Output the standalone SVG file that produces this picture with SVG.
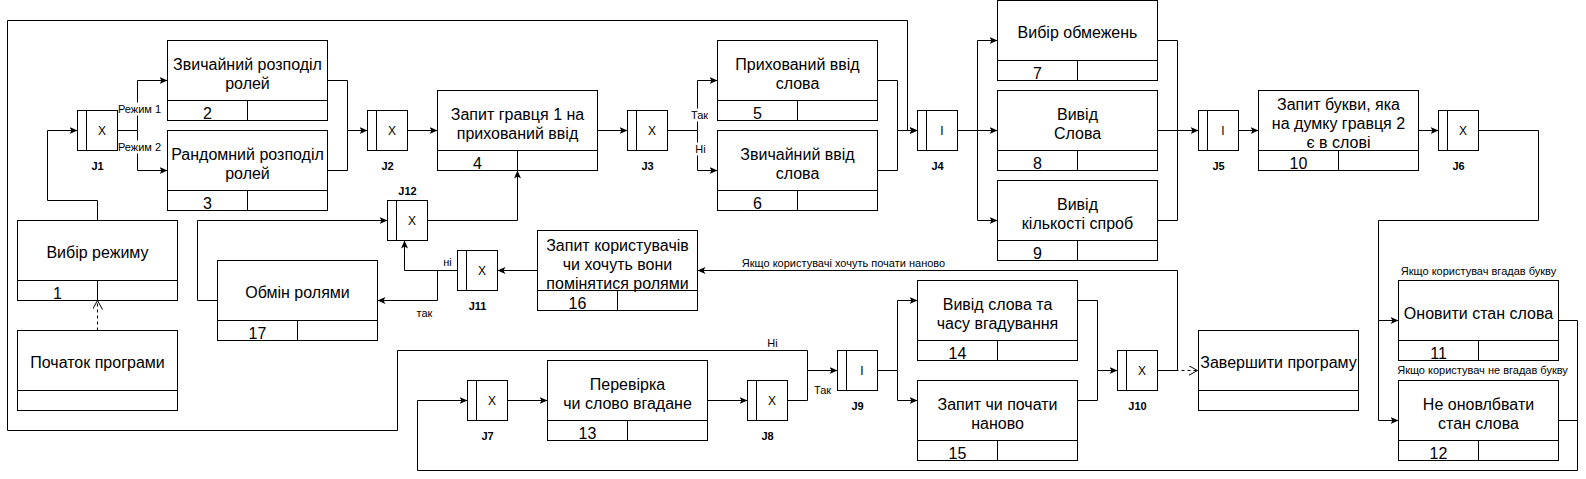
<svg xmlns="http://www.w3.org/2000/svg" width="1586" height="479" viewBox="0 0 1586 479">
<defs>
<style>
.b{fill:#fff;stroke:#000;stroke-width:1}
.l{fill:none;stroke:#000;stroke-width:1}
.c{fill:none;stroke:#000;stroke-width:1}
.d{fill:none;stroke:#000;stroke-width:1;stroke-dasharray:3 3}
.t{font-family:"Liberation Sans",Arial,sans-serif;font-size:16px;text-anchor:middle;fill:#000}
.j{font-family:"Liberation Sans",Arial,sans-serif;font-size:12px;text-anchor:middle;fill:#000}
.jl{font-family:"Liberation Sans",Arial,sans-serif;font-size:11px;font-weight:bold;text-anchor:middle;fill:#000}
.e{font-family:"Liberation Sans",Arial,sans-serif;font-size:11px;text-anchor:middle;fill:#000}
.bg{fill:#fff;stroke:none}
</style>
<marker id="a" markerWidth="10" markerHeight="10" refX="8" refY="4" orient="auto" markerUnits="userSpaceOnUse"><path d="M0,0.5 L8,4 L0,7.5 L2,4 Z" fill="#000"/></marker>
<marker id="o" markerWidth="12" markerHeight="12" refX="9" refY="5" orient="auto" markerUnits="userSpaceOnUse"><path d="M0,0 L9,5 L0,10" fill="none" stroke="#000"/></marker>
</defs>
<rect width="1586" height="479" fill="#fff"/>
<g transform="translate(0.5,0.5)">
<g id="connectors">
<path class="c" marker-end="url(#a)" d="M97,220 V200 H47 V130 H77"/>
<path class="c" marker-end="url(#a)" d="M117,130 H137 V80 H167"/>
<path class="c" marker-end="url(#a)" d="M137,130 V170 H167"/>
<path class="c" marker-end="url(#a)" d="M327,80 H347 V130 H367"/>
<path class="c" d="M327,170 H347 V130"/>
<path class="c" marker-end="url(#a)" d="M407,130 H437"/>
<path class="c" marker-end="url(#a)" d="M597,130 H627"/>
<path class="c" marker-end="url(#a)" d="M667,130 H697 V80 H717"/>
<path class="c" marker-end="url(#a)" d="M697,130 V170 H717"/>
<path class="c" marker-end="url(#a)" d="M877,80 H897 V130 H917"/>
<path class="c" d="M877,170 H897 V130"/>
<path class="c" marker-end="url(#a)" d="M957,130 H997"/>
<path class="c" marker-end="url(#a)" d="M977,130 V40 H997"/>
<path class="c" marker-end="url(#a)" d="M977,130 V220 H997"/>
<path class="c" d="M1157,40 H1177 V220 H1157"/>
<path class="c" marker-end="url(#a)" d="M1157,130 H1198"/>
<path class="c" marker-end="url(#a)" d="M1238,130 H1258"/>
<path class="c" marker-end="url(#a)" d="M1418,130 H1438"/>
<path class="c" marker-end="url(#a)" d="M1478,130 H1538 V220 H1378 V320 H1398"/>
<path class="c" marker-end="url(#a)" d="M1378,320 V420 H1398"/>
<path class="c" marker-end="url(#a)" d="M1558,320 H1577 V470 H417 V400 H467"/>
<path class="c" d="M1558,420 H1577"/>
<path class="c" marker-end="url(#a)" d="M507,400 H547"/>
<path class="c" marker-end="url(#a)" d="M707,400 H747"/>
<path class="c" marker-end="url(#a)" d="M787,400 H807 V370 H837"/>
<path class="c" marker-end="url(#a)" d="M807,370 V350 H397 V430 H7 V20 H907 V130 H917"/>
<path class="c" marker-end="url(#a)" d="M877,370 H897 V300 H917"/>
<path class="c" marker-end="url(#a)" d="M897,370 V400 H917"/>
<path class="c" marker-end="url(#a)" d="M1077,300 H1097 V370 H1117"/>
<path class="c" d="M1077,400 H1097 V370"/>
<path class="c" marker-end="url(#a)" d="M1157,370 H1177 V270 H697"/>
<path class="d" marker-end="url(#o)" d="M1157,370 H1197"/>
<path class="c" marker-end="url(#a)" d="M537,270 H497"/>
<path class="c" marker-end="url(#a)" d="M457,270 H404 V240"/>
<path class="c" marker-end="url(#a)" d="M437,270 V300 H377"/>
<path class="c" marker-end="url(#a)" d="M217,300 H197 V220 H387"/>
<path class="c" marker-end="url(#a)" d="M427,220 H517 V170"/>
<path class="d" marker-end="url(#o)" d="M97,330 V300"/>
<rect class="bg" x="117" y="102" width="44" height="13"/>
<text class="e" x="139" y="112">Режим 1</text>
<rect class="bg" x="117" y="140" width="44" height="13"/>
<text class="e" x="139" y="150">Режим 2</text>
<rect class="bg" x="689" y="108" width="20" height="13"/>
<text class="e" x="699" y="118">Так</text>
<rect class="bg" x="693" y="142" width="14" height="13"/>
<text class="e" x="700" y="152">Ні</text>
<rect class="bg" x="441" y="255" width="12" height="12"/>
<text class="e" x="447" y="265">ні</text>
<text class="e" x="424" y="316">так</text>
<text class="e" x="772" y="346">Ні</text>
<text class="e" x="822" y="393">Так</text>
<text class="e" x="843" y="266">Якщо користувачі хочуть почати наново</text>
<text class="e" x="1478" y="274">Якщо користувач вгадав букву</text>
<text class="e" x="1482" y="373">Якщо користувач не вгадав букву</text>
</g>
<g id="n1"><rect class="b" x="17" y="220" width="160" height="80"/><path class="l" d="M17,280 H177 M97,280 V300"/><text class="t" x="97" y="257">Вибір режиму</text><text class="t" x="57" y="298">1</text></g>
<g id="start"><rect class="b" x="17" y="330" width="160" height="80"/><path class="l" d="M17,390 H177"/><text class="t" x="97" y="367">Початок програми</text></g>
<g id="n2"><rect class="b" x="167" y="40" width="160" height="80"/><path class="l" d="M167,100 H327 M247,100 V120"/><text class="t" x="247" y="69">Звичайний розподіл</text><text class="t" x="247" y="88">ролей</text><text class="t" x="207" y="118">2</text></g>
<g id="n3"><rect class="b" x="167" y="130" width="160" height="80"/><path class="l" d="M167,190 H327 M247,190 V210"/><text class="t" x="247" y="159">Рандомний розподіл</text><text class="t" x="247" y="178">ролей</text><text class="t" x="207" y="208">3</text></g>
<g id="n4"><rect class="b" x="437" y="90" width="160" height="80"/><path class="l" d="M437,150 H597 M517,150 V170"/><text class="t" x="517" y="119">Запит гравця 1 на</text><text class="t" x="517" y="138">прихований ввід</text><text class="t" x="477" y="168">4</text></g>
<g id="n5"><rect class="b" x="717" y="40" width="160" height="80"/><path class="l" d="M717,100 H877 M797,100 V120"/><text class="t" x="797" y="69">Прихований ввід</text><text class="t" x="797" y="88">слова</text><text class="t" x="757" y="118">5</text></g>
<g id="n6"><rect class="b" x="717" y="130" width="160" height="80"/><path class="l" d="M717,190 H877 M797,190 V210"/><text class="t" x="797" y="159">Звичайний ввід</text><text class="t" x="797" y="178">слова</text><text class="t" x="757" y="208">6</text></g>
<g id="n7"><rect class="b" x="997" y="0" width="160" height="80"/><path class="l" d="M997,60 H1157 M1077,60 V80"/><text class="t" x="1077" y="37">Вибір обмежень</text><text class="t" x="1037" y="78">7</text></g>
<g id="n8"><rect class="b" x="997" y="90" width="160" height="80"/><path class="l" d="M997,150 H1157 M1077,150 V170"/><text class="t" x="1077" y="119">Вивід</text><text class="t" x="1077" y="138">Слова</text><text class="t" x="1037" y="168">8</text></g>
<g id="n9"><rect class="b" x="997" y="180" width="160" height="80"/><path class="l" d="M997,240 H1157 M1077,240 V260"/><text class="t" x="1077" y="209">Вивід</text><text class="t" x="1077" y="228">кількості спроб</text><text class="t" x="1037" y="258">9</text></g>
<g id="n10"><rect class="b" x="1258" y="90" width="160" height="80"/><path class="l" d="M1258,150 H1418 M1338,150 V170"/><text class="t" x="1338" y="109">Запит букви, яка</text><text class="t" x="1338" y="128">на думку гравця 2</text><text class="t" x="1338" y="147">є в слові</text><text class="t" x="1298" y="168">10</text></g>
<g id="n11"><rect class="b" x="1398" y="280" width="160" height="80"/><path class="l" d="M1398,340 H1558 M1478,340 V360"/><text class="t" x="1478" y="318">Оновити стан слова</text><text class="t" x="1438" y="358">11</text></g>
<g id="n12"><rect class="b" x="1398" y="380" width="160" height="80"/><path class="l" d="M1398,440 H1558 M1478,440 V460"/><text class="t" x="1478" y="409">Не оновлбвати</text><text class="t" x="1478" y="428">стан слова</text><text class="t" x="1438" y="458">12</text></g>
<g id="n13"><rect class="b" x="547" y="360" width="160" height="80"/><path class="l" d="M547,420 H707 M627,420 V440"/><text class="t" x="627" y="389">Перевірка</text><text class="t" x="627" y="408">чи слово вгадане</text><text class="t" x="587" y="438">13</text></g>
<g id="n14"><rect class="b" x="917" y="280" width="160" height="80"/><path class="l" d="M917,340 H1077 M997,340 V360"/><text class="t" x="997" y="309">Вивід слова та</text><text class="t" x="997" y="328">часу вгадування</text><text class="t" x="957" y="358">14</text></g>
<g id="n15"><rect class="b" x="917" y="380" width="160" height="80"/><path class="l" d="M917,440 H1077 M997,440 V460"/><text class="t" x="997" y="409">Запит чи почати</text><text class="t" x="997" y="428">наново</text><text class="t" x="957" y="458">15</text></g>
<g id="n16"><rect class="b" x="537" y="230" width="160" height="80"/><path class="l" d="M537,290 H697 M617,290 V310"/><text class="t" x="617" y="250">Запит користувачів</text><text class="t" x="617" y="269">чи хочуть вони</text><text class="t" x="617" y="288">помінятися ролями</text><text class="t" x="577" y="308">16</text></g>
<g id="n17"><rect class="b" x="217" y="260" width="160" height="80"/><path class="l" d="M217,320 H377 M297,320 V340"/><text class="t" x="297" y="297">Обмін ролями</text><text class="t" x="257" y="338">17</text></g>
<g id="end"><rect class="b" x="1198" y="330" width="160" height="80"/><path class="l" d="M1198,390 H1358"/><text class="t" x="1278" y="367">Завершити програму</text></g>
<g id="J1"><rect class="b" x="77" y="110" width="40" height="40"/><path class="l" d="M86,110 V150"/><text class="j" x="101.5" y="134">X</text><text class="jl" x="97" y="169">J1</text></g>
<g id="J2"><rect class="b" x="367" y="110" width="40" height="40"/><path class="l" d="M376,110 V150"/><text class="j" x="391.5" y="134">X</text><text class="jl" x="387" y="169">J2</text></g>
<g id="J3"><rect class="b" x="627" y="110" width="40" height="40"/><path class="l" d="M636,110 V150"/><text class="j" x="651.5" y="134">X</text><text class="jl" x="647" y="169">J3</text></g>
<g id="J4"><rect class="b" x="917" y="110" width="40" height="40"/><path class="l" d="M926,110 V150"/><text class="j" x="941.5" y="134">I</text><text class="jl" x="937" y="169">J4</text></g>
<g id="J5"><rect class="b" x="1198" y="110" width="40" height="40"/><path class="l" d="M1207,110 V150"/><text class="j" x="1222.5" y="134">I</text><text class="jl" x="1218" y="169">J5</text></g>
<g id="J6"><rect class="b" x="1438" y="110" width="40" height="40"/><path class="l" d="M1447,110 V150"/><text class="j" x="1462.5" y="134">X</text><text class="jl" x="1458" y="169">J6</text></g>
<g id="J7"><rect class="b" x="467" y="380" width="40" height="40"/><path class="l" d="M476,380 V420"/><text class="j" x="491.5" y="404">X</text><text class="jl" x="487" y="439">J7</text></g>
<g id="J8"><rect class="b" x="747" y="380" width="40" height="40"/><path class="l" d="M756,380 V420"/><text class="j" x="771.5" y="404">X</text><text class="jl" x="767" y="439">J8</text></g>
<g id="J9"><rect class="b" x="837" y="350" width="40" height="40"/><path class="l" d="M846,350 V390"/><text class="j" x="861.5" y="374">I</text><text class="jl" x="857" y="409">J9</text></g>
<g id="J10"><rect class="b" x="1117" y="350" width="40" height="40"/><path class="l" d="M1126,350 V390"/><text class="j" x="1141.5" y="374">X</text><text class="jl" x="1137" y="409">J10</text></g>
<g id="J11"><rect class="b" x="457" y="250" width="40" height="40"/><path class="l" d="M466,250 V290"/><text class="j" x="481.5" y="274">X</text><text class="jl" x="477" y="309">J11</text></g>
<g id="J12"><rect class="b" x="387" y="200" width="40" height="40"/><path class="l" d="M396,200 V240"/><text class="j" x="411.5" y="224">X</text><text class="jl" x="407" y="194">J12</text></g>
</g>
</svg>
